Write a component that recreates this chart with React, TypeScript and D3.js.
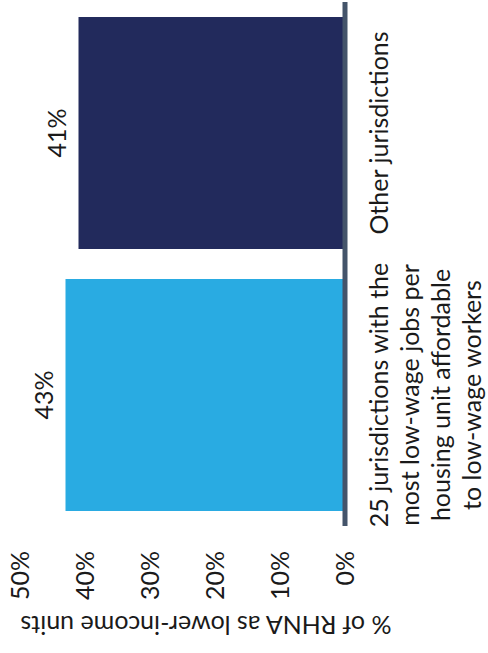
import React from "react";
import * as d3 from "d3";

const categories = [
  "Other jurisdictions",
  "25 jurisdictions with the most low-wage jobs per housing unit affordable to low-wage workers",
];
const categoryLines = [
  ["Other jurisdictions"],
  ["25 jurisdictions with the", "most low-wage jobs per", "housing unit affordable", "to low-wage workers"],
];
const values = [41, 43];
const valueLabels = ["41%", "43%"];
const ticks = [0, 10, 20, 30, 40, 50];
const tickLabels = ["0%", "10%", "20%", "30%", "40%", "50%"];
const colors = ["#222a5c", "#29abe2"];
const axisTitle = "% of RHNA as lower-income units";

const W = 488;
const H = 653;
const FONT = "Lato, 'Open Sans', sans-serif";
const TEXT = "#1a1a1a";

export default function App() {
  // Chart drawn rotated 90° counter-clockwise: values run right-to-left.
  const x = d3.scaleLinear().domain([0, 50]).range([345, 20]);
  const y = d3
    .scaleBand<string>()
    .domain(categories)
    .range([2, 526])
    .paddingInner(0.1145)
    .paddingOuter(0.0573);

  return (
    <svg
      width={W}
      height={H}
      style={{ position: "absolute", left: 0, top: 0, background: "#fff" }}
      fontFamily={FONT}
    >
      {categories.map((c, i) => (
        <rect
          key={c}
          x={x(values[i])}
          y={y(c)}
          width={x(0) - x(values[i])}
          height={y.bandwidth()}
          fill={colors[i]}
        />
      ))}
      <line x1={x(0)} x2={x(0)} y1={2} y2={526} stroke="#44546a" strokeWidth={5} />
      {categories.map((c, i) => {
        const cy = (y(c) as number) + y.bandwidth() / 2;
        const bx = x(values[i]) - 13;
        return (
          <text
            key={"v" + c}
            transform={`translate(${bx},${cy}) rotate(-90)`}
            textAnchor="middle"
            fontSize={25}
            fill={TEXT}
          >
            {valueLabels[i]}
          </text>
        );
      })}
      {categories.map((c, i) => {
        const cy = (y(c) as number) + y.bandwidth() / 2;
        return categoryLines[i].map((line, j) => (
          <text
            key={"c" + c + j}
            transform={`translate(${388 + j * 31},${cy}) rotate(-90)`}
            textAnchor="middle"
            fontSize={25}
            fill={TEXT}
          >
            {line}
          </text>
        ));
      })}
      {ticks.map((t, i) => (
        <text
          key={"t" + t}
          transform={`translate(${x(t)},551) rotate(-90)`}
          textAnchor="end"
          dy="0.35em"
          fontSize={25}
          fill={TEXT}
        >
          {tickLabels[i]}
        </text>
      ))}
      <text
        transform={`translate(206,616) rotate(180)`}
        textAnchor="middle"
        fontSize={25}
        fill={TEXT}
      >
        {axisTitle}
      </text>
    </svg>
  );
}
